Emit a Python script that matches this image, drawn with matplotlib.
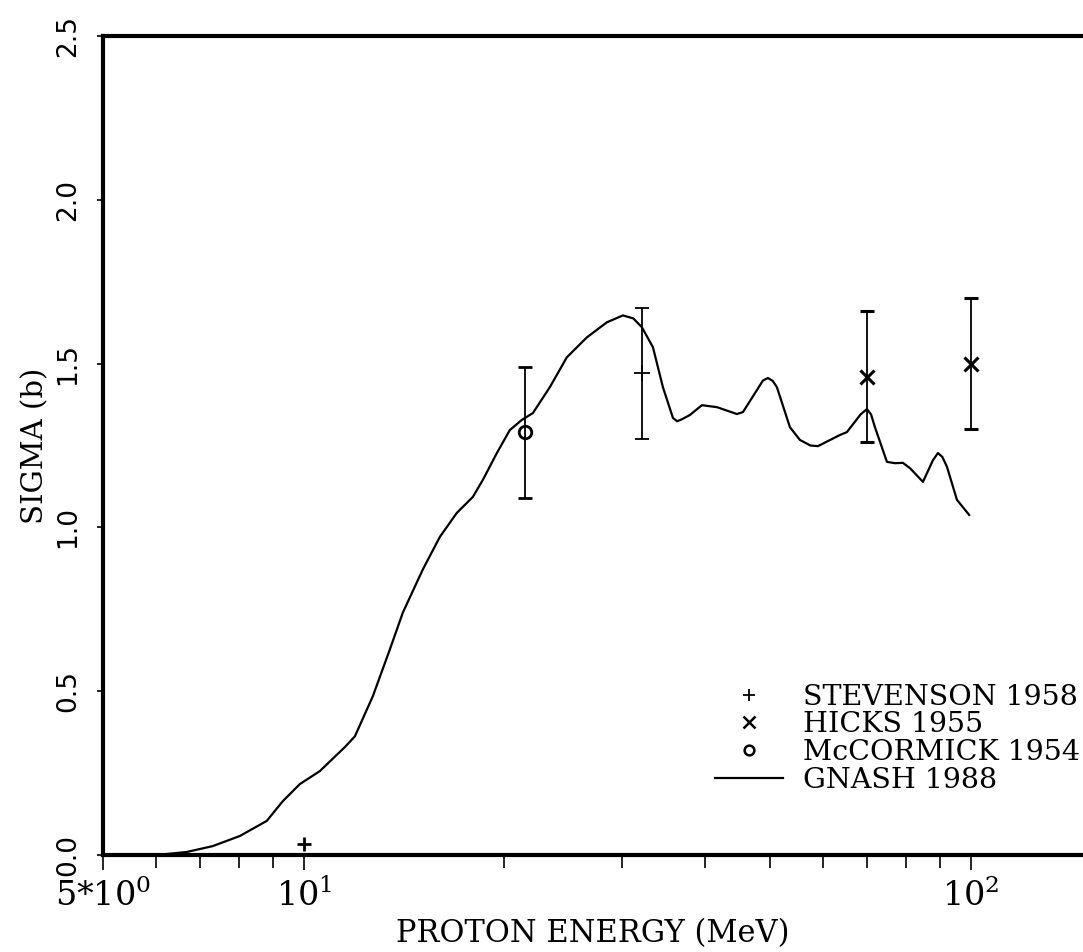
import matplotlib
matplotlib.use("Agg")
import matplotlib.pyplot as plt
from matplotlib.lines import Line2D
from matplotlib.legend_handler import HandlerLine2D

# GNASH 1988 calculation
gnash_e = [6.02, 6.67, 7.30, 8.02, 8.80, 9.30, 9.86, 10.57, 11.52, 11.93, 12.69,
           13.46, 14.08, 15.08, 16.00, 16.96, 17.93, 18.56, 19.48, 20.37, 21.23,
           22.06, 23.39, 24.80, 26.58, 28.48, 30.10, 31.2, 32.14, 33.39, 34.56, 35.78,
           36.3, 36.9, 37.93, 39.54, 41.65, 44.62, 45.56, 47.81, 48.8, 49.66, 50.5,
           51.23, 53.58, 55.46, 57.5, 59.02, 63.68, 65.24, 68.4, 69.90, 70.9, 71.86,
           74.90, 77.0, 79.15, 81.09, 84.82, 87.8, 89.33, 90.7, 92.15, 95.39, 99.5]
gnash_sig = [0.0, 0.009, 0.027, 0.058, 0.104, 0.164, 0.216, 0.256, 0.329, 0.362, 0.484,
             0.627, 0.740, 0.871, 0.971, 1.044, 1.093, 1.145, 1.227, 1.297, 1.328,
             1.349, 1.428, 1.519, 1.580, 1.626, 1.647, 1.638, 1.611, 1.550, 1.428, 1.334,
             1.324, 1.330, 1.343, 1.373, 1.367, 1.346, 1.352, 1.419, 1.448, 1.456, 1.447,
             1.428, 1.306, 1.267, 1.250, 1.248, 1.282, 1.291, 1.345, 1.361, 1.345, 1.306,
             1.200, 1.196, 1.197, 1.181, 1.139, 1.205, 1.227, 1.215, 1.185, 1.084, 1.038]

# measurements
stev_e = [32.1]
stev_sig = [1.47]
stev_err = [0.20]
stev_low_e = [10.0]
stev_low_sig = [0.034]

hicks_e = [69.8, 100.0]
hicks_sig = [1.46, 1.50]
hicks_err = [0.20, 0.20]

mcc_e = [21.5]
mcc_sig = [1.29]
mcc_err = [0.20]

xticks = [5, 10, 100]
xtick_labels = ['5*$\\mathregular{10^0}$', '$\\mathregular{10^1}$', '$\\mathregular{10^2}$']
yticks = [0.0, 0.5, 1.0, 1.5, 2.0, 2.5]
ytick_labels = ['0.0', '0.5', '1.0', '1.5', '2.0', '2.5']


class EndMarker(HandlerLine2D):
    # put the legend marker at the right end of the key
    def get_xdata(self, legend, xdescent, ydescent, width, height, fontsize):
        return [-xdescent, -xdescent + width], [-xdescent + 0.92 * width]


plt.rcParams['font.family'] = 'DejaVu Serif'
plt.rcParams['mathtext.fontset'] = 'dejavuserif'

fig = plt.figure(figsize=(10.83, 9.52), dpi=100)
ax = fig.add_axes([0.0951, 0.1019, 0.9049, 0.8603])

ax.plot(gnash_e, gnash_sig, color='black', lw=1.6, solid_joinstyle='round')

ax.errorbar(stev_e, stev_sig, yerr=stev_err, fmt='+', color='black', ms=12, mew=1.3,
            elinewidth=1.3, capsize=5, capthick=1.3)
ax.plot(stev_low_e, stev_low_sig, '+', color='black', ms=10, mew=2)
ax.errorbar(hicks_e, hicks_sig, yerr=hicks_err, fmt='x', color='black', ms=10, mew=2.2,
            elinewidth=1.3, capsize=5, capthick=2.5)
ax.errorbar(mcc_e, mcc_sig, yerr=mcc_err, fmt='o', mfc='none', color='black', ms=9, mew=2,
            elinewidth=1.3, capsize=5, capthick=1.3)

ax.set_xscale('log')
ax.set_xlim(5, 147.4)
ax.set_ylim(0, 2.5)

ax.set_xticks(xticks)
ax.set_xticklabels(xtick_labels, fontsize=24)
ax.xaxis.set_minor_locator(matplotlib.ticker.LogLocator(base=10, subs=range(2, 10)))
ax.xaxis.set_minor_formatter(matplotlib.ticker.NullFormatter())
ax.tick_params(axis='x', which='major', direction='out', length=11, width=1.2, pad=6)
ax.tick_params(axis='x', which='minor', direction='out', length=9, width=1.2)

ax.set_yticks(yticks)
ax.set_yticklabels(ytick_labels, family='DejaVu Sans', fontsize=19, rotation=90, va='center')
ax.tick_params(axis='y', direction='out', length=4, width=1.2, pad=12)

for side in ['left', 'bottom', 'top']:
    ax.spines[side].set_linewidth(3)
ax.spines['right'].set_visible(False)

ax.set_xlabel('PROTON ENERGY (MeV)', fontsize=22, labelpad=4)
ax.set_ylabel('SIGMA (b)', fontsize=21, labelpad=4)

handles = [
    Line2D([], [], ls='none', marker='+', color='black', ms=9, mew=1.3),
    Line2D([], [], ls='none', marker='x', color='black', ms=8, mew=1.8),
    Line2D([], [], ls='none', marker='o', mfc='none', color='black', ms=7, mew=1.8),
    Line2D([], [], color='black', lw=1.6),
]
labels = ['STEVENSON 1958', 'HICKS 1955', 'McCORMICK 1954', 'GNASH 1988']
ax.legend(handles, labels, loc='lower right', bbox_to_anchor=(0.997, 0.075),
          frameon=False, fontsize=20.5, handlelength=2.4, handletextpad=0.7,
          labelspacing=0.02, borderpad=0, borderaxespad=0,
          handler_map={Line2D: EndMarker()})

fig.savefig('out.png', dpi=100)
